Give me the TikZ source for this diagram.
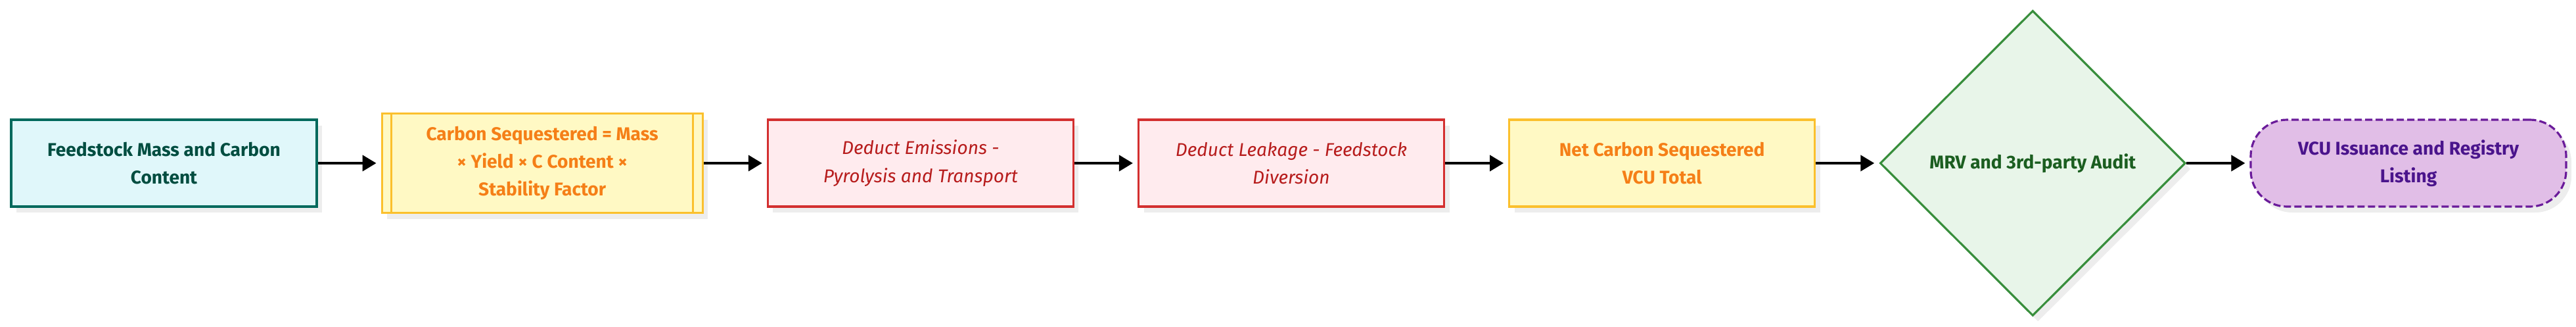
\documentclass[tikz,border=0pt]{standalone}
\usepackage{fontspec}
\setmainfont{Fira Sans}
\usepackage{tikz}
\usetikzlibrary{arrows.meta}
\usetikzlibrary{shapes,positioning,shadows}
\definecolor{tealfill}{HTML}{E0F7FA}
\definecolor{tealline}{HTML}{00695C}
\definecolor{tealtext}{HTML}{004D40}
\definecolor{yellfill}{HTML}{FFF9C4}
\definecolor{yellline}{HTML}{FBC02D}
\definecolor{yelltext}{HTML}{F57F17}
\definecolor{redfill}{HTML}{FFEBEE}
\definecolor{redline}{HTML}{D32F2F}
\definecolor{redtext}{HTML}{B71C1C}
\definecolor{grnfill}{HTML}{E8F5E9}
\definecolor{grnline}{HTML}{388E3C}
\definecolor{grntext}{HTML}{1B5E20}
\definecolor{purfill}{HTML}{E1BEE7}
\definecolor{purline}{HTML}{6A1B9A}
\definecolor{purtext}{HTML}{4A148C}
\tikzset{>={Triangle[length=0.42cm,width=0.48cm]},
  node distance=1.92cm,
  boxbase/.style={draw,line width=1.8pt,align=center,inner sep=0pt,
    font=\fontsize{16}{24}\selectfont\bfseries,
    drop shadow={shadow xshift=0.16cm,shadow yshift=-0.18cm,fill=black,opacity=0.07}},
  inputbox/.style={boxbase,rectangle,minimum width=9.3cm,minimum height=2.64cm,
    fill=tealfill,draw=tealline,text=tealtext},
  calcbox/.style={boxbase,rectangle,minimum width=9.76cm,minimum height=3.02cm,
    fill=yellfill,draw=yellline,text=yelltext},
  calcline/.style={draw=yellline,line width=1.8pt},
  deductbox/.style={boxbase,rectangle,minimum width=9.3cm,minimum height=2.64cm,
    fill=redfill,draw=redline,text=redtext,
    font=\fontsize{16}{24}\selectfont\itshape},
  totalbox/.style={boxbase,rectangle,minimum width=9.3cm,minimum height=2.64cm,
    fill=yellfill,draw=yellline,text=yelltext},
  auditdiamond/.style={boxbase,diamond,aspect=1,minimum width=9.3cm,minimum height=9.28cm,
    fill=grnfill,draw=grnline,text=grntext},
  issuebox/.style={boxbase,rectangle,rounded corners=1.1cm,minimum width=9.6cm,minimum height=2.64cm,
    fill=purfill,draw=purline,text=purtext,dash pattern=on 0.22cm off 0.1cm},
  flow/.style={->,line width=2.3pt,shorten >=0.14cm}}
\begin{document}
\begin{tikzpicture}
  \useasboundingbox (0,0) rectangle (78.4,-9.92);
  \node [inputbox] (feed) at (4.99,-4.96) {Feedstock Mass and Carbon\\Content};
  \node [calcbox,right=of feed] (seq) {Carbon Sequestered = Mass\\× Yield × C Content ×\\Stability Factor};
  \draw [calcline] ([xshift=0.32cm]seq.north west) -- ([xshift=0.32cm]seq.south west);
  \draw [calcline] ([xshift=-0.32cm]seq.north east) -- ([xshift=-0.32cm]seq.south east);
  \node [deductbox,right=of seq] (emis) {Deduct Emissions -\\Pyrolysis and Transport};
  \node [deductbox,right=of emis] (leak) {Deduct Leakage - Feedstock\\Diversion};
  \node [totalbox,right=of leak] (net) {Net Carbon Sequestered\\VCU Total};
  \node [auditdiamond,right=of net] (audit) {MRV and 3rd-party Audit};
  \node [issuebox,right=of audit] (vcu) {VCU Issuance and Registry\\Listing};

  \draw [flow] (feed) -- (seq);
  \draw [flow] (seq) -- (emis);
  \draw [flow] (emis) -- (leak);
  \draw [flow] (leak) -- (net);
  \draw [flow] (net) -- (audit);
  \draw [flow] (audit) -- (vcu);
\end{tikzpicture}
\end{document}
